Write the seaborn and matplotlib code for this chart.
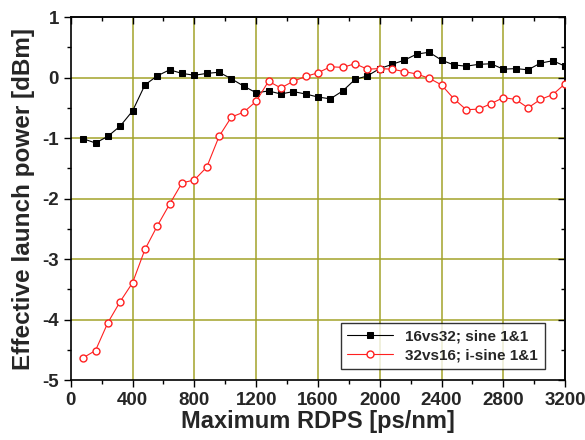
"""
Effective launch power vs maximum RDPS
"""
import numpy as np
import pandas as pd
import matplotlib
matplotlib.use('Agg')
import matplotlib.pyplot as plt
from matplotlib.ticker import MultipleLocator
import seaborn as sns

rdps = list(range(80, 3201, 80))

sine_16vs32 = [-1.01, -1.08, -0.97, -0.80, -0.55, -0.12, 0.03, 0.13, 0.07, 0.04,
               0.07, 0.09, -0.02, -0.14, -0.25, -0.22, -0.27, -0.23, -0.27, -0.32,
               -0.35, -0.22, -0.03, 0.03, 0.15, 0.22, 0.29, 0.39, 0.42, 0.29,
               0.21, 0.19, 0.22, 0.23, 0.14, 0.15, 0.13, 0.24, 0.28, 0.19]

isine_32vs16 = [-4.63, -4.51, -4.05, -3.70, -3.39, -2.84, -2.45, -2.09, -1.74, -1.69,
                -1.48, -0.97, -0.65, -0.57, -0.39, -0.06, -0.17, -0.06, 0.02, 0.08,
                0.18, 0.17, 0.23, 0.14, 0.15, 0.14, 0.10, 0.06, -0.01, -0.12,
                -0.35, -0.53, -0.52, -0.43, -0.33, -0.36, -0.50, -0.36, -0.28, -0.10]

labels = ['16vs32; sine 1&1', '32vs16; i-sine 1&1']

df = pd.DataFrame({'rdps': rdps, 'a': sine_16vs32, 'b': isine_32vs16})

sns.set_style('white')
plt.rcParams['font.family'] = ['Liberation Sans', 'DejaVu Sans']
plt.rcParams['font.weight'] = 'bold'
plt.rcParams['axes.unicode_minus'] = False

fig = plt.figure(figsize=(5.85, 4.4), dpi=100)
ax = fig.add_axes([0.121, 0.136, 0.845, 0.825])

grid_col = '#a3a32a'
for gx in range(400, 3200, 400):
    ax.axvline(gx, color=grid_col, lw=1.1, zorder=0)
for gy in range(-4, 1):
    ax.axhline(gy, color=grid_col, lw=1.1, zorder=0)

sns.lineplot(data=df, x='rdps', y='a', ax=ax, color='black', lw=0.8,
             marker='s', markersize=5, markeredgecolor='black',
             markerfacecolor='black', label=labels[0], zorder=3)
sns.lineplot(data=df, x='rdps', y='b', ax=ax, color='#ff2020', lw=0.8,
             marker='o', markersize=5, markeredgecolor='#ff2020',
             markerfacecolor='white', markeredgewidth=1.0, label=labels[1], zorder=3)

ax.set_xlim(0, 3200)
ax.set_ylim(-5, 1)
ax.xaxis.set_major_locator(MultipleLocator(400))
ax.xaxis.set_minor_locator(MultipleLocator(200))
ax.yaxis.set_major_locator(MultipleLocator(1))
ax.yaxis.set_minor_locator(MultipleLocator(0.5))

ax.tick_params(which='both', direction='out', bottom=True, left=True,
               top=False, right=False, color='black', width=1.0)
ax.tick_params(which='major', length=5, labelsize=13.5)
ax.tick_params(which='minor', length=3)
for lab in ax.get_xticklabels() + ax.get_yticklabels():
    lab.set_fontweight('bold')

# mirrored ticks pointing inward on top and right
top = ax.secondary_xaxis('top')
top.xaxis.set_major_locator(MultipleLocator(400))
top.xaxis.set_minor_locator(MultipleLocator(200))
top.tick_params(which='both', direction='in', labeltop=False, color='black', width=1.0)
top.tick_params(which='major', length=5)
top.tick_params(which='minor', length=3)
right = ax.secondary_yaxis('right')
right.yaxis.set_major_locator(MultipleLocator(1))
right.yaxis.set_minor_locator(MultipleLocator(0.5))
right.tick_params(which='both', direction='in', labelright=False, color='black', width=1.0)
right.tick_params(which='major', length=5)
right.tick_params(which='minor', length=3)
top.spines['top'].set_linewidth(1.2)
right.spines['right'].set_linewidth(1.2)

for sp in ax.spines.values():
    sp.set_color('black')
    sp.set_linewidth(1.2)

ax.set_xlabel('Maximum RDPS [ps/nm]', fontsize=17, fontweight='bold', labelpad=1)
ax.set_ylabel('Effective launch power [dBm]', fontsize=17.5, fontweight='bold', labelpad=5)

leg = ax.legend(loc='lower right', bbox_to_anchor=(0.975, 0.01), fontsize=11,
                frameon=True, fancybox=False, edgecolor='black',
                handlelength=3.0, borderpad=0.45, labelspacing=0.3)
leg.get_frame().set_linewidth(1.0)
for t in leg.get_texts():
    t.set_fontweight('bold')

fig.savefig('out.png', dpi=100)
